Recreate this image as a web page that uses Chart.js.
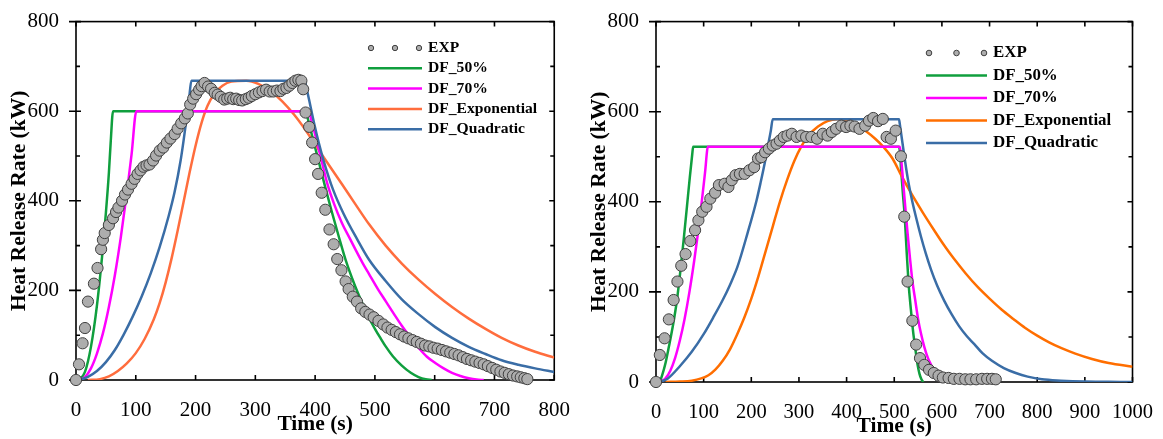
<!DOCTYPE html>
<html>
<head>
<meta charset="utf-8">
<title>Heat Release Rate</title>
<script src="https://cdn.jsdelivr.net/npm/chart.js@4.4.1/dist/chart.umd.min.js"></script>
<style>
  html, body { margin: 0; padding: 0; background: #fff; overflow: hidden; }
  body { width: 1163px; height: 439px; position: relative; }
  canvas { position: absolute; top: 0; }
</style>
</head>
<body>
<canvas id="hrrLeft" width="580" height="439" style="left:0"></canvas>
<canvas id="hrrRight" width="583" height="439" style="left:580px"></canvas>
<script>
// ---- data, [time (s), HRR (kW)] ----
const Y_TICKS = [0, 200, 400, 600, 800]
const Y_MINOR = [100, 300, 500, 700]
const X_TICKS_LEFT = [0, 100, 200, 300, 400, 500, 600, 700, 800]
const X_TICKS_RIGHT = [0, 100, 200, 300, 400, 500, 600, 700, 800, 900, 1000]
const LABELS = ['EXP', 'DF_50%', 'DF_70%', 'DF_Exponential', 'DF_Quadratic']

const LEFT_EXP = [[0,0],[5,35],[11,82],[15,116],[20,175],[30,215],[36,250],[42,292],[45,313],[48,328],[55,346],[62,361],[67,375],[71,385],[77,400],[82,414],[87,425],[93,438],[98,449],[103,460],[108,468],[113,476],[118,479],[123,481],[129,490],[134,501],[140,512],[146,519],[152,530],[158,539],[165,549],[170,561],[176,573],[182,584],[187,595],[191,615],[196,628],[201,638],[206,648],[210,656],[215,663],[221,655],[226,650],[232,641],[237,637],[242,632],[248,626],[253,628],[258,630],[263,627],[268,628],[273,625],[278,624],[284,627],[289,630],[294,634],[300,638],[306,642],[312,645],[318,648],[324,644],[330,644],[336,646],[342,645],[347,650],[352,652],[357,657],[362,663],[367,668],[372,670],[377,668],[380,649],[384,597],[390,565],[395,530],[400,493],[405,460],[411,418],[417,380],[424,336],[431,303],[437,270],[444,245],[451,220],[456,203],[463,186],[470,175],[477,160],[484,152],[491,146],[498,140],[506,132],[514,124],[521,117],[528,112],[535,107],[542,102],[549,97],[556,93],[563,89],[570,85],[577,81],[584,77],[591,75],[598,72],[605,70],[612,67],[619,64],[626,61],[633,58],[640,55],[647,51],[654,47],[661,44],[668,41],[675,38],[682,35],[689,31],[696,27],[703,23],[710,19],[717,16],[724,13],[731,10],[738,8],[744,6],[750,4],[755,2]]
const LEFT_DF50 = [[5,0],[15,18],[25,74],[35,166],[45,295],[50,373],[55,462],[58,530],[62,600],[384,600],[388,582],[395,545],[406,488],[417,430],[428,375],[440,318],[451,268],[465,216],[480,168],[490,139],[501,112],[510,92],[518,75],[530,53],[545,32],[560,16],[573,6.5],[585,1.5],[595,0]]
const LEFT_DF70 = [[5,0],[15,6.5],[25,26],[35,59],[45,104],[55,163],[65,234],[75,319],[85,417],[93,504],[101,600],[390,600],[393,583],[400,548],[408,505],[420,440],[432,392],[445,350],[458,316],[468,290],[480,260],[490,237],[505,203],[518,176],[532,147],[545,121],[560,94],[573,72],[587,52],[601,38],[615,26],[629,16],[643,9],[657,4],[670,1],[682,0]]
const LEFT_EXPO = [[20,0],[40,2],[55,8],[70,20],[85,37],[100,60],[115,92],[130,135],[140,172],[150,218],[160,272],[170,333],[180,398],[190,463],[200,523],[210,574],[220,612],[232,640],[245,657],[260,666],[285,668],[305,661],[325,645],[345,622],[365,592],[385,556],[405,516],[425,476],[445,437],[465,397],[490,348],[518,300],[545,260],[573,224],[601,192],[629,163],[657,137],[685,114],[712,94],[740,77],[768,63],[800,50]]
const LEFT_QUAD = [[5,0],[20,7],[35,20],[50,40],[65,67],[80,102],[95,142],[110,187],[125,238],[140,297],[155,366],[165,420],[175,490],[180,535],[185,585],[189,625],[193,668],[383,668],[385,655],[390,625],[398,575],[406,530],[415,486],[430,425],[448,370],[470,315],[490,269],[518,221],[545,180],[573,147],[601,118],[629,94],[657,74],[685,58],[712,44],[740,34],[768,26],[800,18]]

const RIGHT_EXP = [[0,0],[8,60],[18,97],[27,139],[37,182],[45,223],[53,258],[62,284],[72,313],[82,337],[89,359],[97,378],[106,389],[114,407],[124,420],[132,437],[144,440],[152,433],[159,448],[167,459],[176,462],[186,462],[196,470],[206,477],[214,496],[221,499],[229,510],[237,518],[245,525],[253,529],[260,536],[268,544],[276,547],[285,551],[295,544],[305,547],[315,544],[326,544],[338,540],[350,551],[360,547],[369,555],[378,562],[389,569],[399,566],[408,569],[417,567],[427,562],[439,569],[447,580],[456,586],[466,579],[476,584],[484,544],[493,540],[503,558],[514,501],[521,367],[528,223],[538,136],[546,83],[554,53],[563,38],[573,27],[583,20],[593,14],[602,10],[614,9],[625,7],[637,7],[649,6],[660,6],[672,6],[684,7],[695,7],[705,7],[713,6]]
const RIGHT_DF50 = [[8,0],[13,15],[20,42],[27,78],[36,128],[44,182],[51,245],[58,315],[65,390],[71,455],[76,505],[78,522],[510,522],[512,510],[514,477],[518,420],[522,367],[526,290],[530,220],[535,160],[540,108],[545,68],[549,38],[553,18],[557,6],[561,0]]
const RIGHT_DF70 = [[8,0],[20,8],[30,25],[40,53],[50,92],[60,140],[70,199],[80,268],[88,330],[96,400],[103,466],[109,522],[512,522],[515,490],[519,440],[523,390],[528,330],[533,275],[538,225],[544,182],[550,140],[556,108],[563,78],[571,52],[579,35],[586,20],[592,9],[598,0]]
const RIGHT_EXPO = [[20,0],[50,1],[75,3],[95,8],[110,15],[125,28],[140,47],[155,72],[170,105],[185,142],[200,185],[215,235],[230,290],[245,345],[260,400],[275,448],[290,490],[305,523],[320,547],[340,567],[360,579],[380,583],[400,580],[420,571],[440,557],[460,540],[478,521],[497,495],[515,458],[536,418],[560,376],[583,338],[605,303],[625,274],[650,241],[675,211],[700,185],[725,161],[750,140],[775,120],[800,103],[825,88],[851,75],[880,63],[915,51],[950,42],[1000,34]]
const RIGHT_QUAD = [[8,0],[25,8],[50,35],[75,67],[101,108],[120,143],[140,182],[155,215],[171,256],[192,330],[211,403],[220,445],[228,485],[236,530],[241,558],[245,583],[510,583],[512,570],[516,540],[520,510],[525,474],[531,436],[538,400],[547,360],[556,323],[566,286],[577,250],[590,214],[605,180],[620,151],[636,124],[652,102],[668,84],[685,64],[705,47],[730,31],[755,20],[780,12],[810,6],[850,3],[900,1],[950,0.5],[1000,0]]

const SERIF = '"Liberation Serif", "Times New Roman", serif'

// frame with inward ticks on all four sides, drawn under the data
const frameTicks = {
  id: 'frameTicks',
  beforeDatasetsDraw(chart) {
    const { ctx, chartArea: a, scales: { x, y } } = chart
    ctx.save()
    ctx.strokeStyle = '#000'
    ctx.lineWidth = 1.6
    ctx.strokeRect(a.left, a.top, a.right - a.left, a.bottom - a.top)
    ctx.beginPath()
    x.ticks.forEach(t => {
      const px = x.getPixelForValue(t.value)
      ctx.moveTo(px, a.bottom); ctx.lineTo(px, a.bottom - 5)
      ctx.moveTo(px, a.top); ctx.lineTo(px, a.top + 5)
    })
    y.ticks.forEach(t => {
      const py = y.getPixelForValue(t.value)
      ctx.moveTo(a.left - 7, py); ctx.lineTo(a.left + 5, py)
      ctx.moveTo(a.right, py); ctx.lineTo(a.right - 5, py)
    })
    Y_MINOR.forEach(v => {
      const py = y.getPixelForValue(v)
      ctx.moveTo(a.left, py); ctx.lineTo(a.left + 4, py)
      ctx.moveTo(a.right, py); ctx.lineTo(a.right - 4, py)
    })
    ctx.stroke()
    ctx.restore()
  },
}

// legend inside the plot, EXP shown as three dots
const boxLegend = {
  id: 'boxLegend',
  afterDatasetsDraw(chart, args, opts) {
    const { ctx } = chart
    ctx.save()
    ctx.font = `bold ${opts.size}px ${SERIF}`
    ctx.textBaseline = 'middle'
    chart.data.datasets.forEach((ds, i) => {
      const yy = opts.y + i * opts.row
      if (ds.showLine === false) {
        [opts.x + 3, opts.x + opts.len / 2, opts.x + opts.len - 3].forEach(cx => {
          ctx.beginPath()
          ctx.arc(cx, yy, opts.dot, 0, Math.PI * 2)
          ctx.fillStyle = ds.pointBackgroundColor
          ctx.fill()
          ctx.lineWidth = 1
          ctx.strokeStyle = ds.pointBorderColor
          ctx.stroke()
        })
      } else {
        ctx.beginPath()
        ctx.moveTo(opts.x, yy)
        ctx.lineTo(opts.x + opts.len, yy)
        ctx.lineWidth = ds.borderWidth
        ctx.strokeStyle = ds.borderColor
        ctx.stroke()
      }
      ctx.fillStyle = '#000'
      ctx.fillText(ds.label, opts.x + opts.len + 6, yy)
    })
    ctx.restore()
  },
}

const toXY = pts => pts.map(([x, y]) => ({ x, y }))

function buildChart(canvasId, cfg) {
  // lower order is painted later (on top)
  const curve = (label, pts, color, order) => ({
    label,
    data: toXY(pts),
    order,
    borderColor: color,
    borderWidth: 2.5,
    pointRadius: 0,
    fill: false,
    tension: 0.4,
    cubicInterpolationMode: 'monotone',
  })
  const datasets = [
    {
      label: LABELS[0],
      data: toXY(cfg.exp),
      order: 0,
      showLine: false,
      pointRadius: 5.6,
      pointBackgroundColor: '#adadad',
      pointBorderColor: '#404040',
      pointBorderWidth: 1,
      clip: 10,
    },
    curve(LABELS[1], cfg.df50, '#109f3e', 4),
    curve(LABELS[2], cfg.df70, '#ff00ff', 2),
    curve(LABELS[3], cfg.expo, cfg.orange, 3),
    curve(LABELS[4], cfg.quad, '#3a6da6', 1),
  ]

  return new Chart(document.getElementById(canvasId), {
    type: 'line',
    data: { datasets },
    options: {
      responsive: false,
      animation: false,
      events: [],
      layout: { padding: cfg.padding },
      plugins: {
        legend: { display: false },
        tooltip: { enabled: false },
        boxLegend: cfg.legend,
      },
      scales: {
        x: {
          type: 'linear',
          min: 0,
          max: cfg.xTicks[cfg.xTicks.length - 1],
          afterBuildTicks: s => { s.ticks = cfg.xTicks.map(v => ({ value: v })) },
          afterFit: s => { s.height = cfg.xHeight },
          grid: { display: false },
          border: { display: false },
          ticks: {
            color: '#000',
            font: { family: SERIF, size: cfg.tickSize },
            padding: 10,
            maxRotation: 0,
            autoSkip: false,
            callback: v => String(v),
          },
          title: {
            display: true,
            text: 'Time (s)',
            color: '#000',
            font: { family: SERIF, size: 21.5, weight: 'bold' },
            padding: { top: 0, bottom: cfg.xTitlePad },
          },
        },
        y: {
          type: 'linear',
          min: 0,
          max: 800,
          afterBuildTicks: s => { s.ticks = Y_TICKS.map(v => ({ value: v })) },
          afterFit: s => { s.width = 76 },
          grid: { display: false },
          border: { display: false },
          ticks: {
            color: '#000',
            font: { family: SERIF, size: 21 },
            padding: 9,
            callback: v => String(v),
          },
          title: {
            display: true,
            text: 'Heat Release Rate (kW)',
            color: '#000',
            font: { family: SERIF, size: 21.5, weight: 'bold' },
            padding: { top: 7, bottom: 0 },
          },
        },
      },
    },
    plugins: [frameTicks, boxLegend],
  })
}

buildChart('hrrLeft', {
  exp: LEFT_EXP, df50: LEFT_DF50, df70: LEFT_DF70, expo: LEFT_EXPO, quad: LEFT_QUAD,
  orange: '#ff6d3d',
  xTicks: X_TICKS_LEFT,
  padding: { left: 0, top: 18, right: 24, bottom: 0 },
  xHeight: 59,
  xTitlePad: 2,
  tickSize: 21,
  legend: { x: 368, y: 48, len: 54, row: 20.3, size: 15.6, dot: 2.7 },
})

buildChart('hrrRight', {
  exp: RIGHT_EXP, df50: RIGHT_DF50, df70: RIGHT_DF70, expo: RIGHT_EXPO, quad: RIGHT_QUAD,
  orange: '#ff6e00',
  xTicks: X_TICKS_RIGHT,
  padding: { left: 0, top: 21, right: 29, bottom: 0 },
  xHeight: 57,
  xTitlePad: 0,
  tickSize: 20.5,
  legend: { x: 346, y: 53, len: 61, row: 22.5, size: 16.9, dot: 2.8 },
})
</script>
</body>
</html>
